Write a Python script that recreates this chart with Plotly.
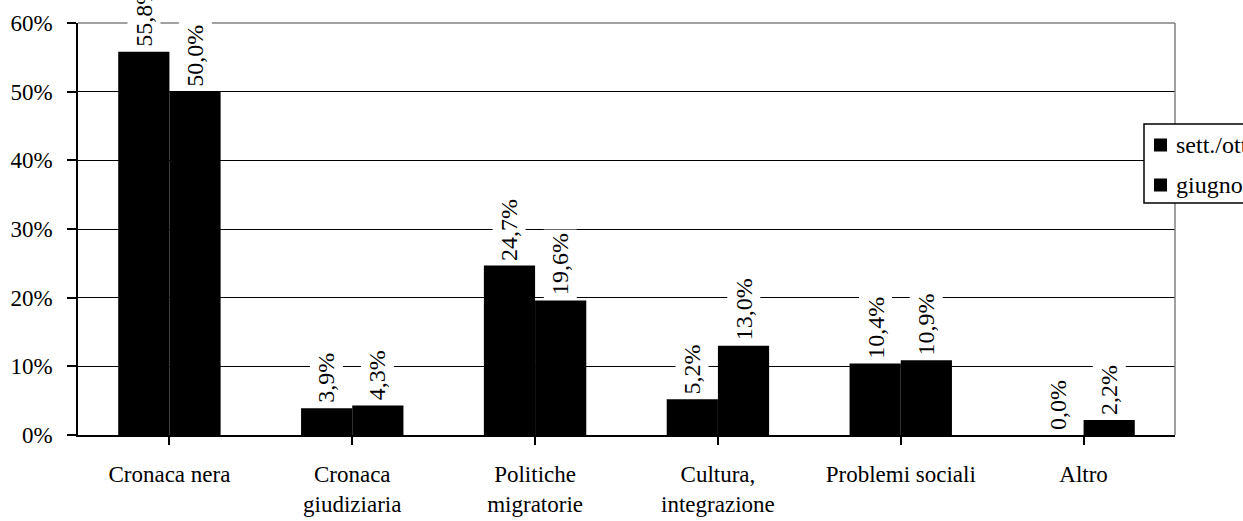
import plotly.graph_objects as go

categories = ["Cronaca nera", "Cronaca<br>giudiziaria", "Politiche<br>migratorie",
              "Cultura,<br>integrazione", "Problemi sociali", "Altro"]
series_names = ["sett./ott.", "giugno"]
sett_ott = [55.8, 3.9, 24.7, 5.2, 10.4, 0.0]
giugno = [50.0, 4.3, 19.6, 13.0, 10.9, 2.2]
y_ticks = [0, 10, 20, 30, 40, 50, 60]
y_tick_labels = ["0%", "10%", "20%", "30%", "40%", "50%", "60%"]

FONT = "Liberation Serif"
W, H = 1243, 521
ML, MR, MT, MB = 78, 68, 23, 86
BARGAP = 0.44
bar_w = (1 - BARGAP) / 2

# pixel -> paper coordinate helpers for the legend box
def px_x(x):
    return (x - ML) / (W - ML - MR)

def px_y(y):
    return (H - MB - y) / (H - MT - MB)

fig = go.Figure()
for name, vals in zip(series_names, [sett_ott, giugno]):
    fig.add_trace(go.Bar(
        x=list(range(len(categories))), y=vals, name=name,
        marker=dict(color="black", line=dict(width=0)),
    ))

def fmt(v):
    return f"{v:.1f}".replace(".", ",") + "%"

# value labels, rotated, on a white box that breaks the gridlines
annotations = []
for k, vals in enumerate([sett_ott, giugno]):
    offset = (k - 0.5) * bar_w
    for i, v in enumerate(vals):
        annotations.append(dict(
            x=i + offset, y=v, xref="x", yref="y",
            text=fmt(v), showarrow=False, textangle=-90,
            xanchor="center", yanchor="bottom", yshift=1,
            bgcolor="white", borderpad=3,
            font=dict(family=FONT, size=24, color="black"),
        ))

shapes = [
    dict(type="line", xref="paper", yref="paper", x0=0, x1=1, y0=1, y1=1,
         line=dict(color="#808080", width=1.5), layer="above"),
    dict(type="line", xref="paper", yref="paper", x0=1, x1=1, y0=0, y1=1,
         line=dict(color="#808080", width=1.5), layer="above"),
    # legend frame
    dict(type="rect", xref="paper", yref="paper",
         x0=px_x(1144), x1=px_x(1262), y0=px_y(203), y1=px_y(124),
         fillcolor="white", line=dict(color="black", width=1.5), layer="above"),
]
legend_rows = [145, 185]
for name, row in zip(series_names, legend_rows):
    shapes.append(dict(type="rect", xref="paper", yref="paper",
                       x0=px_x(1154), x1=px_x(1167), y0=px_y(row + 6.5), y1=px_y(row - 6.5),
                       fillcolor="black", line=dict(width=0), layer="above"))
    annotations.append(dict(x=px_x(1174), y=px_y(row), xref="paper", yref="paper",
                            text=name, showarrow=False, xanchor="left", yanchor="middle",
                            font=dict(family=FONT, size=24, color="black")))

fig.update_layout(
    width=W, height=H,
    margin=dict(l=ML, r=MR, t=MT, b=MB, autoexpand=False),
    paper_bgcolor="white", plot_bgcolor="white",
    barmode="group", bargap=BARGAP, bargroupgap=0,
    font=dict(family=FONT, size=24, color="black"),
    showlegend=False,
    annotations=annotations,
    shapes=shapes,
)

fig.update_xaxes(
    tickmode="array", tickvals=list(range(len(categories))), ticktext=categories,
    range=[-0.5, len(categories) - 0.5],
    tickson="boundaries", ticks="outside", ticklen=8, tickcolor="black", tickwidth=1.5,
    showline=True, linecolor="black", linewidth=1.5,
    showgrid=False, zeroline=False, ticklabelstandoff=10,
    tickfont=dict(family=FONT, size=23, color="black"),
)
fig.update_yaxes(
    range=[0, 60], tickmode="array", tickvals=y_ticks, ticktext=y_tick_labels,
    ticks="outside", ticklen=9, tickcolor="black", tickwidth=1.5,
    showline=True, linecolor="black", linewidth=1.5,
    showgrid=True, gridcolor="black", gridwidth=1, zeroline=False,
    ticklabelstandoff=10,
    tickfont=dict(family=FONT, size=23, color="black"),
)

fig.write_html("out.html")
